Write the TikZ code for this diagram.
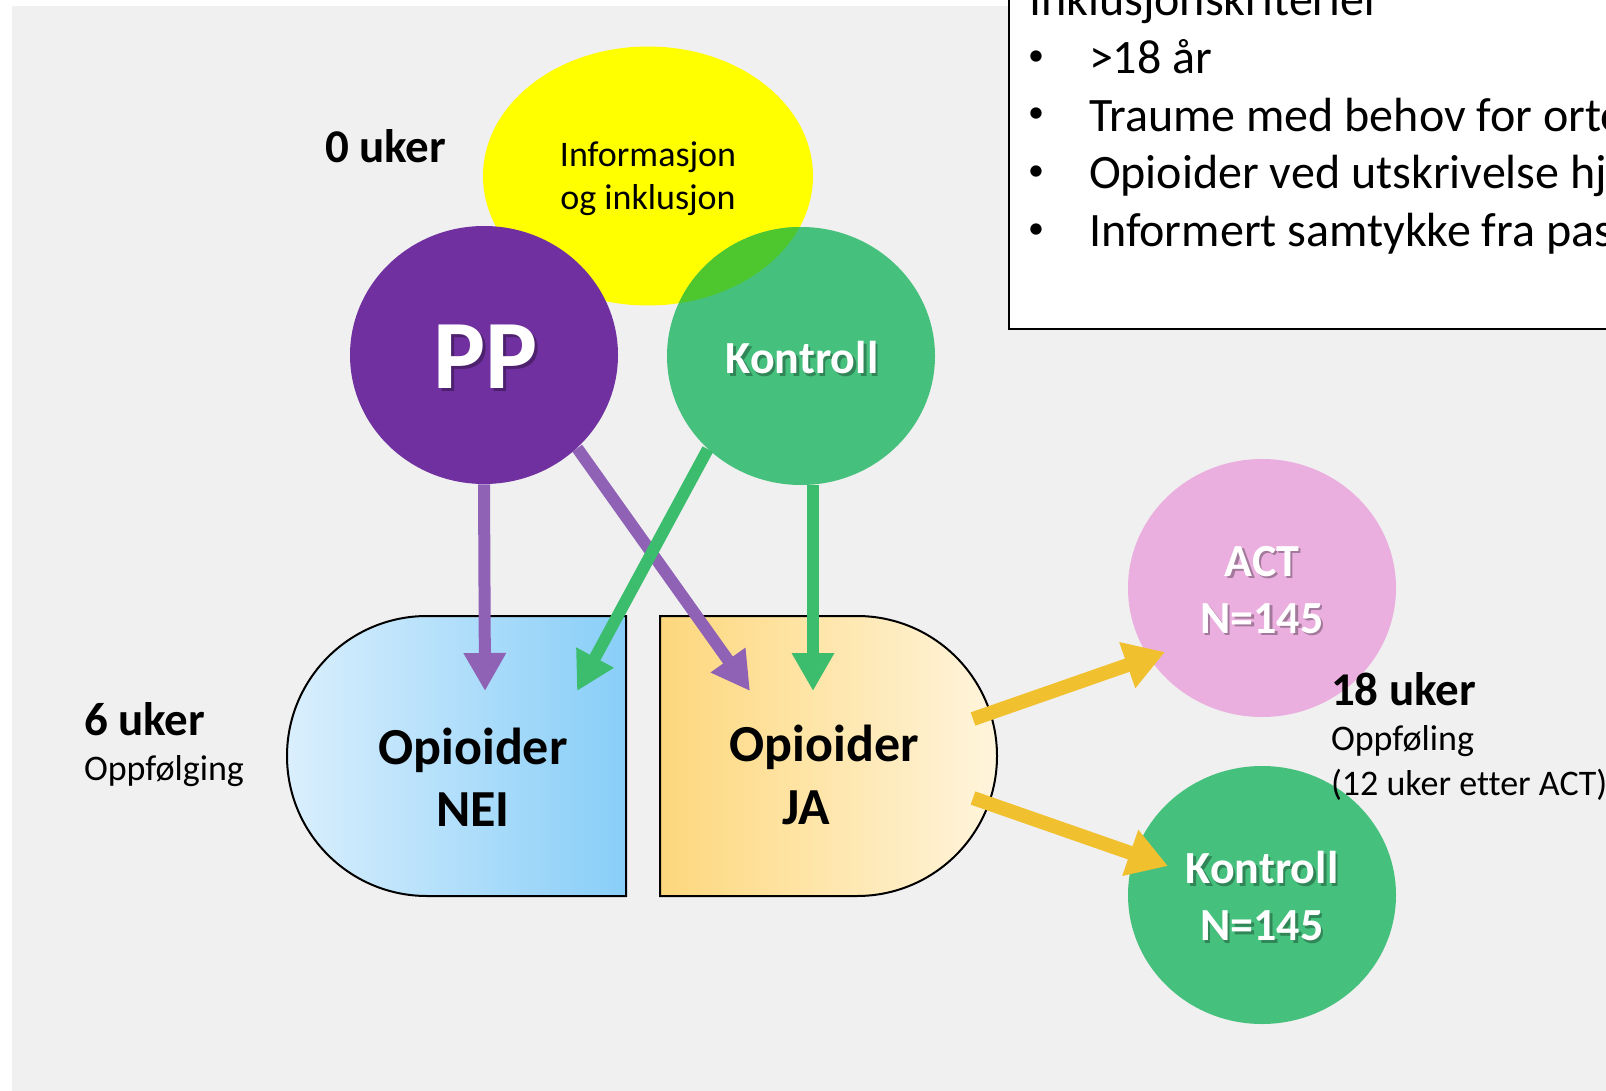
\documentclass[tikz,border=0pt]{standalone}
\usepackage{fontspec}
\setmainfont{Carlito}[Ligatures=NoCommon]
\usetikzlibrary{shapes.geometric,arrows.meta,calc}

\definecolor{bggray}{HTML}{F0F0F0}
\definecolor{infoyellow}{HTML}{FFFF00}
\definecolor{ppurple}{HTML}{7030A0}
\definecolor{kgreen}{HTML}{46C17D}
\definecolor{overlapgreen}{HTML}{4EC62E}
\definecolor{actpink}{HTML}{EAAEDF}
\definecolor{arrowpurple}{HTML}{8F62B6}
\definecolor{arrowgreen}{HTML}{3BBD6D}
\definecolor{arrowyellow}{HTML}{F0C02E}
\definecolor{neileft}{HTML}{DAEFFD}
\definecolor{neiright}{HTML}{88CEF8}
\definecolor{jaleft}{HTML}{FDD77C}
\definecolor{jaright}{HTML}{FFF5DD}

\tikzset{
  disc/.style={ellipse, inner sep=0pt, minimum width=134pt, minimum height=129pt},
  txt/.style={inner sep=0pt, outer sep=0pt},
  wlbl/.style={txt, text=white, align=center, font=\bfseries\fontsize{23}{28.5}\selectfont},
  biglbl/.style={txt, text=white, font=\bfseries\fontsize{49}{55}\selectfont},
  lblshadow/.style={text=black, text opacity=0.3, xshift=1.2pt, yshift=-1.2pt},
  weeklbl/.style={txt, anchor=west, font=\bfseries\fontsize{23.5}{28}\selectfont},
  notelbl/.style={txt, anchor=west, font=\fontsize{18}{21.5}\selectfont},
  pilltxt/.style={txt, font=\bfseries\fontsize{26}{31}\selectfont},
  crit/.style={txt, anchor=base west, font=\fontsize{24}{29}\selectfont},
  bulletmark/.style={txt, anchor=center, font=\fontsize{16}{19}\selectfont},
  flow/.style={line width=6pt, -{Triangle[width=20pt,length=19pt]}},
  yflow/.style={line width=7pt, draw=arrowyellow, -{Triangle[width=23pt,length=20pt]}},
  pill/.style={draw=black, line width=1pt},
}

\begin{document}
\begin{tikzpicture}[x=0.5pt, y=-0.5pt]
\useasboundingbox (0,0) rectangle (1606,1091);
\clip (0,0) rectangle (1606,1091);
\fill[white] (0,0) rectangle (1606,1091);
\fill[bggray] (12,6) rectangle (1606,1091);

% inclusion criteria box
\draw[line width=1pt, fill=white] (1009,-30) rectangle (1650,329);
\node[crit] (crithead) at (1029,16) {Inklusjonskriterier};
\node[bulletmark] (b1) at (1036,58) {•};
\node[bulletmark] (b2) at (1036,115.5) {•};
\node[bulletmark] (b3) at (1036,173) {•};
\node[bulletmark] (b4) at (1036,231) {•};
\node[crit] (c1) at (1089,74) {>18 år};
\node[crit] (c2) at (1089,131.5) {Traume med behov for ortopedisk kirurgi};
\node[crit] (c3) at (1089,189) {Opioider ved utskrivelse hjem};
\node[crit] (c4) at (1089,247) {Informert samtykke fra pasient};

% week 0: information, randomisation
\node[disc, fill=infoyellow, minimum width=165pt, minimum height=129.5pt] (info) at (648,176) {};
\node[disc, fill=ppurple] (pp) at (484,355) {};
\node[disc, fill=kgreen] (ktop) at (801,356) {};
\begin{scope}
  \clip (ktop.center) ellipse [x radius=67pt, y radius=64.5pt];
  \fill[overlapgreen] (info.center) ellipse [x radius=82.5pt, y radius=64.75pt];
\end{scope}
\node[txt, align=center, font=\fontsize{18}{21.5}\selectfont] (infolbl) at (648,179) {Informasjon\\og inklusjon};
\node[biglbl, lblshadow] (ppsh) at (486,357) {PP};
\node[biglbl] (pplbl) at (486,357) {PP};
\node[wlbl, lblshadow] (ktopsh) at (802,358) {Kontroll};
\node[wlbl] (ktoplbl) at (802,358) {Kontroll};

\node[weeklbl] (w0) at (325,146) {0 uker};

% week 6: opioid use split
\path[pill, left color=neileft, right color=neiright]
  (626,616) -- (427,616) arc[start angle=90, end angle=270, radius=70pt] -- (626,896) -- cycle;
\path[pill, left color=jaleft, right color=jaright]
  (660,616) -- (857,616) arc[start angle=90, end angle=-90, radius=70pt] -- (660,896) -- cycle;
\node[pilltxt, align=center] (neilbl) at (473,777) {Opioider\\NEI};
\node[pilltxt] (jalbl1) at (824,747) {Opioider};
\node[pilltxt] (jalbl2) at (806,808) {JA};

\node[weeklbl] (w6) at (84,719) {6 uker};
\node[notelbl] (w6note) at (84,771) {Oppfølging};

% arrows from the groups to the opioid status
\coordinate (neiP) at (485,691);
\coordinate (jaP) at (750,691);
\coordinate (neiK) at (577,691);
\coordinate (jaK) at (813,691);
\draw[flow, draw=arrowpurple] (pp.south) -- (neiP);
\draw[flow, draw=arrowpurple] (pp.-45) -- (jaP);
\draw[flow, draw=arrowgreen] (ktop.-135) -- (neiK);
\draw[flow, draw=arrowgreen] ($(ktop.south)+(12,0)$) -- (jaK);

% week 18: ACT and control arms
\node[disc, fill=actpink] (act) at (1262,588) {};
\node[disc, fill=kgreen] (kbot) at (1262,895) {};
\node[wlbl, lblshadow] (actsh) at (1262,590) {ACT\\N=145};
\node[wlbl] (actlbl) at (1262,590) {ACT\\N=145};
\node[wlbl, lblshadow] (kbotsh) at (1262,896.5) {Kontroll\\N=145};
\node[wlbl] (kbotlbl) at (1262,896.5) {Kontroll\\N=145};

\coordinate (jaOut1) at (973,719);
\coordinate (jaOut2) at (973,798);
\coordinate (actIn) at (1165,652);
\coordinate (kbotIn) at (1168,866);
\draw[yflow] (jaOut1) -- (actIn);
\draw[yflow] (jaOut2) -- (kbotIn);

\node[weeklbl] (w18) at (1331,689) {18 uker};
\node[notelbl] (w18note1) at (1331,741) {Oppføling};
\node[notelbl] (w18note2) at (1331,785) {(12 uker etter ACT)};
\end{tikzpicture}
\end{document}
